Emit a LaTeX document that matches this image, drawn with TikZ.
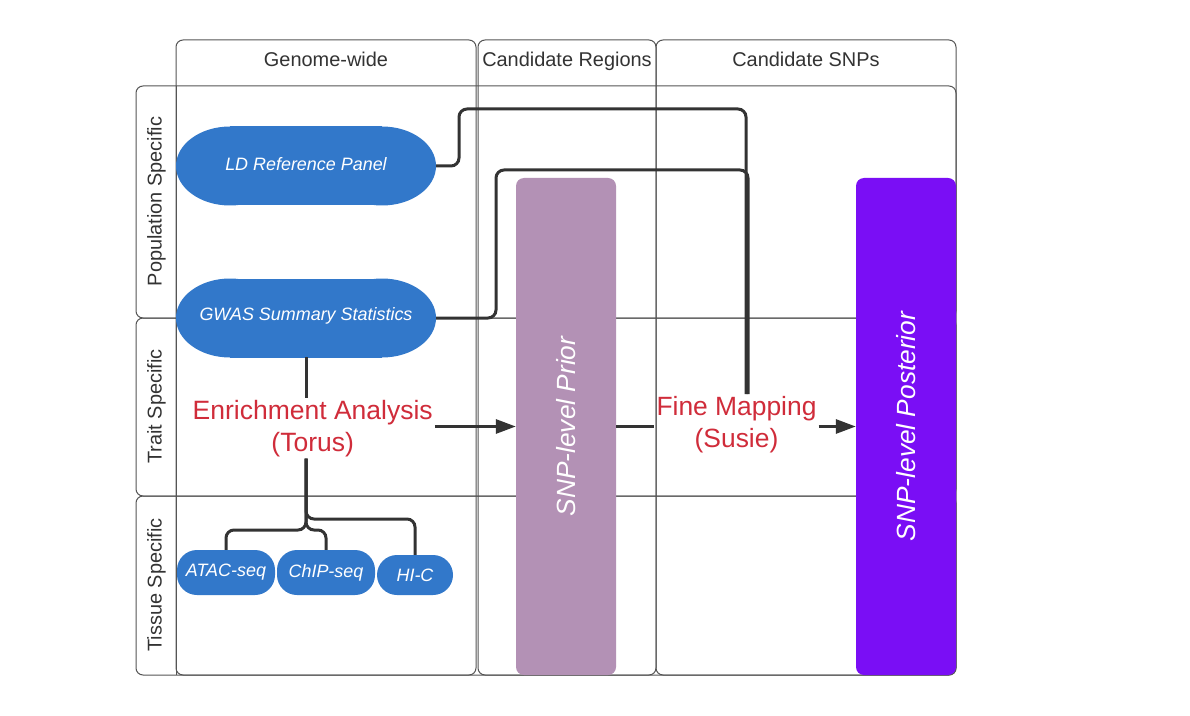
\documentclass[tikz,border=0pt]{standalone}
\usepackage{fontspec}
\setmainfont{Liberation Sans}
\usetikzlibrary{arrows.meta}
\definecolor{nodeblue}{RGB}{50,120,202}
\definecolor{priorpurple}{RGB}{179,145,181}
\definecolor{postpurple}{RGB}{122,14,245}
\definecolor{labelred}{RGB}{208,44,58}
\definecolor{linegray}{RGB}{51,51,51}
\definecolor{gridgray}{RGB}{85,85,85}
\definecolor{textgray}{RGB}{51,51,51}
\begin{document}
\begin{tikzpicture}[x=1bp,y=-1bp,
  lane/.style={draw=gridgray, line width=1bp, rounded corners=7bp},
  hdr/.style={font=\fontsize{20}{24}\selectfont, text=textgray, inner sep=0pt},
  rowhdr/.style={hdr, rotate=90, anchor=base},
  bigtext/.style={text=white, font=\itshape\fontsize{18}{21}\selectfont, minimum width=260bp, minimum height=78bp, inner sep=0pt},
  pill/.style={fill=nodeblue, rounded corners=20bp, text=white, font=\itshape\fontsize{18}{21}\selectfont, inner sep=0pt},
  redlabel/.style={text=labelred, align=center, inner sep=2bp},
  bar/.style={rounded corners=8bp, minimum width=100bp, minimum height=497bp, inner sep=0pt},
  bartext/.style={text=white, rotate=90, font=\itshape\fontsize{26.4}{30}\selectfont},
  conn/.style={draw=linegray, line width=3bp, rounded corners=8bp},
  arr/.style={conn, -{Triangle[length=20bp,width=14bp]}}
]
\useasboundingbox (0,0) rectangle (1190,716);
\fill[white] (0,0) rectangle (1190,716);

% column lanes
\draw[lane] (176,40) rectangle (476,675);
\draw[lane] (478,40) rectangle (656,675);
\draw[lane] (656,40) rectangle (956,675);
% row lanes
\draw[lane] (136,86) rectangle (956,318);
\draw[lane] (136,318) rectangle (956,496);
\draw[lane] (136,496) rectangle (956,675);
\draw[gridgray, line width=1bp] (176,86) -- (176,675);

% headers
\node[hdr, anchor=base] (hgw) at (326,66.7) {Genome-wide};
\node[hdr, anchor=base] (hcr) at (567,66.7) {Candidate Regions};
\node[hdr, anchor=base] (hcs) at (806,66.7) {Candidate SNPs};
\node[rowhdr] (hpop) at (161.5,201.5) {Population Specific};
\node[rowhdr] (htr) at (161.5,406.5) {Trait Specific};
\node[rowhdr] (hti) at (161.5,585) {Tissue Specific};

% stadium backgrounds
\fill[nodeblue] (230,166) ellipse[x radius=54, y radius=39.5] (382,166) ellipse[x radius=54, y radius=39.5];
\fill[nodeblue] (230,126.5) rectangle (382,205.5);
\fill[nodeblue] (230,318) ellipse[x radius=54, y radius=39.5] (382,318) ellipse[x radius=54, y radius=39.5];
\fill[nodeblue] (230,278.5) rectangle (382,357.5);

\node[bigtext] (ld) at (306,164) {LD Reference Panel};
\node[bigtext] (gwas) at (306,316) {GWAS Summary Statistics};

% tissue nodes
\node[pill, minimum width=98bp, minimum height=45bp] (atac) at (226,572.5) {ATAC-seq};
\node[pill, minimum width=98bp, minimum height=45bp] (chip) at (326,572.5) {ChIP-seq};
\node[pill, minimum width=76bp, minimum height=40bp] (hic) at (415,575) {HI-C};

% analysis labels
\node[redlabel, font=\fontsize{26.6}{31.5}\selectfont] (enr) at (312.7,428.5) {Enrichment Analysis\\(Torus)};
\node[redlabel, font=\fontsize{26.5}{31.7}\selectfont] (fm) at (736.5,424.5) {Fine Mapping\\(Susie)};

% bars
\node[bar, fill=priorpurple] (prior) at (566,426.5) {};
\node[bartext] (priort) at (prior.center) {SNP-level Prior};
\node[bar, fill=postpurple] (post) at (906,426.5) {};
\node[bartext] (postt) at (post.center) {SNP-level Posterior};

% connectors
\draw[conn] ([yshift=-2bp]ld.east) -| (459,109) -| ([xshift=9.5bp]fm.north);
\draw[conn] ([yshift=-2bp]gwas.east) -| (496,170) -| ([xshift=11.5bp]fm.north);
\draw[conn] ([yshift=-2bp]gwas.south) -- (gwas.south |- enr.north);
\draw[conn] (gwas.south |- enr.south) |- (226,530) -- (atac.north);
\draw[conn] (gwas.south |- enr.south) |- (326,530) -- (chip.north);
\draw[conn] (gwas.south |- enr.south) |- (415,519) -- (hic.north);
\draw[arr] (enr.east |- prior.west) -- (prior.west);
\draw[conn] (prior.east) -- (prior.east -| fm.west);
\draw[arr] (fm.east |- post.west) -- (post.west);
\end{tikzpicture}
\end{document}
